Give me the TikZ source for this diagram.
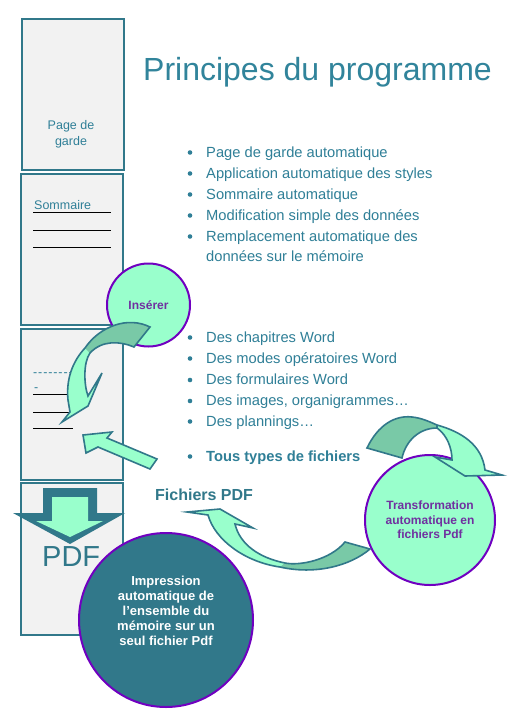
\documentclass[tikz,border=0pt]{standalone}
\usepackage{fontspec}
\setmainfont{Liberation Sans}
\definecolor{boxc}{HTML}{31788A}
\definecolor{txtc}{HTML}{2F7F97}
\definecolor{titc}{HTML}{31849B}
\definecolor{pagefill}{HTML}{F2F2F2}
\definecolor{mint}{HTML}{99FFCC}
\definecolor{dmint}{HTML}{79C9A7}
\definecolor{purp}{HTML}{7000C0}
\definecolor{purpt}{HTML}{7030A0}
\begin{document}
\begin{tikzpicture}[x=1pt,y=-1pt,
  page/.style={draw=boxc, line width=2.5, fill=pagefill},
  btxt/.style={anchor=base west, inner sep=0, text=txtc, font=\fontsize{14.7}{17}\selectfont},
  bdot/.style={fill=txtc},
  blk/.style={draw=boxc, line width=1.6, line join=miter},
  rule/.style={draw=black, line width=1},
  small/.style={inner sep=0, text=txtc, font=\fontsize{12.5}{15}\selectfont}]
\useasboundingbox (0,0) rectangle (514,710);
\fill[white] (0,0) rectangle (514,710);
% pages
\draw[page] (22,19) rectangle (124,170);
\draw[page] (21,174) rectangle (123,325);
\draw[page] (21,329) rectangle (123,480);
\draw[page] (21,483) rectangle (123,635);
% page contents
\node[small, anchor=base] (pg1) at (71,129.5) {Page de};
\node[small, anchor=base] (pg2) at (71,145) {garde};
\node[small, anchor=base west] (som) at (34,209) {Sommaire};
\draw[rule] (33,212.5) -- (111,212.5);
\draw[rule] (33,230) -- (111,230);
\draw[rule] (33,247.5) -- (111,247.5);
\def\hy{-\kern0.9pt}
\node[small, anchor=base west] (dash1) at (33,376) {\hy\hy\hy\hy\hy\hy\hy\hy};
\node[small, anchor=base west] (dash2) at (34,391) {-};
\draw[rule] (33,394.5) -- (73,394.5);
\draw[rule] (33,412) -- (73,412);
\draw[rule] (33,428.5) -- (73,428.5);
% big PDF arrow
\fill[boxc] (43,488) -- (97,488) -- (97,513) -- (125,513) -- (70,544) -- (13,513) -- (43,513) -- cycle;
\fill[mint] (52,497) -- (88,497) -- (88,521) -- (103,521) -- (70,537) -- (36,521) -- (52,521) -- cycle;
\node[anchor=base west, inner sep=0, text=boxc, font=\fontsize{29}{34}\selectfont] (pdf) at (42,566) {PDF};
% title
\node[anchor=base west, inner sep=0, text=titc, font=\fontsize{32}{38}\selectfont] (title) at (143,80) {Principes du programme};
% list 1
\foreach \yy in {157,178,199,220,241} \fill[bdot] (190,\yy-4.5) circle (2.3);
\node[btxt] (l1) at (206,157) {Page de garde automatique};
\node[btxt] (l2) at (206,178) {Application automatique des styles};
\node[btxt] (l3) at (206,199) {Sommaire automatique};
\node[btxt] (l4) at (206,220) {Modification simple des données};
\node[btxt] (l5) at (206,241) {Remplacement automatique des};
\node[btxt] (l6) at (206,261.5) {données sur le mémoire};
% list 2
\foreach \yy in {342,363,384.5,405.5,426,461} \fill[bdot] (190,\yy-4.5) circle (2.3);
\node[btxt] (m1) at (206,342) {Des chapitres Word};
\node[btxt] (m2) at (206,363) {Des modes opératoires Word};
\node[btxt] (m3) at (206,384.5) {Des formulaires Word};
\node[btxt] (m4) at (206,405.5) {Des images, organigrammes…};
\node[btxt] (m5) at (206,426) {Des plannings…};
\node[btxt, font=\bfseries\fontsize{14.7}{17}\selectfont] (m6) at (206,461) {Tous types de fichiers};
\node[anchor=base west, inner sep=0, text=boxc, font=\bfseries\fontsize{16}{19}\selectfont] (fpdf) at (155,500.5) {Fichiers PDF};
% circles
\node[circle, draw=purp, line width=2, fill=mint, minimum size=83, inner sep=0, text=purpt,
      font=\bfseries\fontsize{12}{14}\selectfont] (ins) at (148.5,305) {Insérer};
\node[circle, draw=purp, line width=2, fill=mint, minimum size=130, inner sep=0, text=purpt, align=center,
      font=\bfseries\fontsize{12}{14.5}\selectfont] (trans) at (430,520) {Transformation\\automatique en\\fichiers Pdf};
\node[circle, draw=purp, line width=2, fill=boxc, minimum size=174, inner sep=0] (imp) at (166,620) {};
\node[text=white, align=center, inner sep=0, font=\bfseries\fontsize{13}{15}\selectfont] (imptxt) at (166,610.5)
  {Impression\\automatique de\\l’ensemble du\\mémoire sur un\\seul fichier Pdf};
% arrow 1 (insérer)
\fill[mint] (150,327) .. controls (128,316) and (100,326) .. (85,348) .. controls (72,362) and (66,380) .. (68,400) -- (70,412) -- (62,422) -- (88,406) -- (102,373) -- (88,396) .. controls (84,385) and (83,363) .. (90,353) .. controls (102,340) and (120,341) .. (134,347) -- cycle;
\fill[dmint] (150,327) .. controls (128,316) and (100,326) .. (85,348) -- (90,353) .. controls (102,340) and (120,341) .. (134,347) -- cycle;
\draw[blk] (150,327) .. controls (128,316) and (100,326) .. (85,348) .. controls (72,362) and (66,380) .. (68,400) -- (70,412) -- (62,422) -- (88,406) -- (102,373) -- (88,396) .. controls (84,385) and (83,363) .. (90,353) .. controls (102,340) and (120,341) .. (134,347) -- cycle;
% arrow 2
\filldraw[blk, fill=mint] (83,435) -- (112,432) -- (107,438) -- (157,459) -- (150,469) -- (98,447) -- (86,453) -- cycle;
% arrow 3 (top right)
\fill[mint] (367,448) .. controls (378,425) and (395,415) .. (412,417) .. controls (422,418) and (430,422) .. (437,425) .. controls (462,432) and (482,445) .. (485,470) -- (502,475) -- (465,476) -- (435,457) -- (452,460) .. controls (452,448) and (447,435) .. (437,428) .. controls (420,428) and (406,440) .. (402,458) -- cycle;
\fill[dmint] (367,448) .. controls (378,425) and (395,415) .. (412,417) .. controls (422,418) and (430,422) .. (437,425) -- (437,428) .. controls (420,428) and (406,440) .. (402,458) -- cycle;
\draw[blk] (367,448) .. controls (378,425) and (395,415) .. (412,417) .. controls (422,418) and (430,422) .. (437,425) .. controls (462,432) and (482,445) .. (485,470) -- (502,475) -- (465,476) -- (435,457) -- (452,460) .. controls (452,448) and (447,435) .. (437,428) .. controls (420,428) and (406,440) .. (402,458) -- cycle;
\draw[blk] (437,428) -- (437,425);
% arrow 4 (bottom)
\fill[mint] (345,542) .. controls (330,560) and (300,566) .. (285,563) .. controls (260,558) and (240,545) .. (235,524) -- (253,528) -- (220,509) -- (187,512) -- (208,515) .. controls (215,540) and (245,562) .. (280,567) .. controls (315,575) and (350,566) .. (370,549) -- cycle;
\fill[dmint] (345,542) .. controls (330,560) and (300,566) .. (285,563) -- (280,567) .. controls (315,575) and (350,566) .. (370,549) -- cycle;
\draw[blk] (345,542) .. controls (330,560) and (300,566) .. (285,563) .. controls (260,558) and (240,545) .. (235,524) -- (253,528) -- (220,509) -- (187,512) -- (208,515) .. controls (215,540) and (245,562) .. (280,567) .. controls (315,575) and (350,566) .. (370,549) -- cycle;
\end{tikzpicture}
\end{document}
